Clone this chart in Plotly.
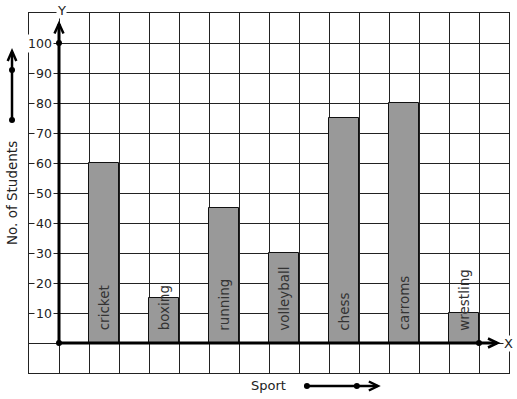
import plotly.graph_objects as go

sports = ["cricket", "boxing", "running", "volleyball", "chess", "carroms", "wrestling"]
students = [60, 15, 45, 30, 75, 80, 10]
y_ticks = [10, 20, 30, 40, 50, 60, 70, 80, 90, 100]

FONT = "DejaVu Sans"
INK = "#222222"

# each sport occupies one grid column, with an empty column between them
xpos = [1.5 + 2 * i for i in range(len(sports))]

fig = go.Figure()
fig.add_trace(go.Bar(
    x=xpos, y=students, width=1,
    marker=dict(color="#999999", line=dict(color="#111111", width=1)),
    hoverinfo="skip", showlegend=False,
))

annotations = []
for xp, s in zip(xpos, sports):
    annotations.append(dict(
        x=xp, y=3.4, xref="x", yref="y", text=s, textangle=-90,
        showarrow=False, xanchor="center", yanchor="bottom",
        font=dict(family=FONT, size=13.5, color="#333333"),
    ))
for v in y_ticks:
    annotations.append(dict(
        x=-0.17, y=v, xref="x", yref="y", text=str(v), showarrow=False,
        xanchor="right", yanchor="middle", bgcolor="white", borderpad=1,
        font=dict(family=FONT, size=12.5, color=INK),
    ))
annotations += [
    dict(x=0.07, y=1.008, xref="x", yref="paper", text="Y", showarrow=False,
         xanchor="center", yanchor="middle", bgcolor="white", borderpad=0,
         font=dict(family=FONT, size=13, color=INK)),
    dict(x=14.97, y=0, xref="x", yref="y", text="X", showarrow=False,
         xanchor="center", yanchor="middle", bgcolor="white", borderpad=0,
         font=dict(family=FONT, size=13, color=INK)),
    dict(x=0.498, y=-0.036, xref="paper", yref="paper", text="Sport", showarrow=False,
         xanchor="center", yanchor="middle",
         font=dict(family=FONT, size=13, color=INK)),
    dict(x=-0.0354, y=0.5, xref="paper", yref="paper", text="No. of Students",
         textangle=-90, showarrow=False, xanchor="center", yanchor="middle",
         font=dict(family=FONT, size=13.5, color=INK)),
]

shapes = []
blk = dict(color="black", width=3)
# axes
shapes.append(dict(type="line", xref="x", yref="y", x0=0, y0=0, x1=0, y1=106.3, line=blk))
shapes.append(dict(type="line", xref="x", yref="y", x0=0, y0=0, x1=14.6, y1=0, line=blk))
# axis arrowheads
shapes.append(dict(type="path", xref="x", yref="y",
                   path="M -0.15,103.2 L 0,106.5 L 0.15,103.2", line=dict(color="black", width=2.5)))
shapes.append(dict(type="path", xref="x", yref="y",
                   path="M 14.3,1.5 L 14.62,0 L 14.3,-1.5", line=dict(color="black", width=2.5)))
# left indicator arrow
ar = dict(color="black", width=2.5)
shapes.append(dict(type="line", xref="paper", yref="paper", x0=-0.0354, y0=0.7028, x1=-0.0354, y1=0.892, line=ar))
shapes.append(dict(type="path", xref="paper", yref="paper",
                   path="M -0.0444,0.867 L -0.0354,0.8944 L -0.0264,0.867", line=ar))
# sport indicator arrow
shapes.append(dict(type="line", xref="paper", yref="paper", x0=0.579, y0=-0.0361, x1=0.726, y1=-0.0361, line=ar))
shapes.append(dict(type="path", xref="paper", yref="paper",
                   path="M 0.708,-0.0236 L 0.727,-0.0361 L 0.708,-0.0486", line=ar))
# dots
def dot_paper(px, py):
    rx, ry = 3 / 480, 3 / 360
    return dict(type="circle", xref="paper", yref="paper", x0=px - rx, x1=px + rx,
                y0=py - ry, y1=py + ry, fillcolor="black", line=dict(color="black", width=0))
shapes += [dot_paper(-0.0354, 0.7028), dot_paper(-0.0354, 0.8417),
           dot_paper(0.579, -0.0361), dot_paper(0.683, -0.0361)]

fig.add_trace(go.Scatter(
    x=[0, 0, 14], y=[0, 100, 0], mode="markers",
    marker=dict(color="black", size=6), cliponaxis=False,
    hoverinfo="skip", showlegend=False,
))

fig.update_layout(
    width=517, height=399, autosize=False,
    margin=dict(l=29, r=8, t=13, b=26, pad=0),
    paper_bgcolor="white", plot_bgcolor="white",
    annotations=annotations, shapes=shapes,
    xaxis=dict(range=[-1, 15], tick0=0, dtick=1, showgrid=True, gridcolor=INK, gridwidth=1,
               showticklabels=False, ticks="", zeroline=False, showline=True,
               linecolor=INK, linewidth=1, mirror=True, fixedrange=True),
    yaxis=dict(range=[-10, 110], tick0=0, dtick=10, showgrid=True, gridcolor=INK, gridwidth=1,
               showticklabels=False, ticks="", zeroline=False, showline=True,
               linecolor=INK, linewidth=1, mirror=True, fixedrange=True),
    bargap=0,
)

fig.write_html("out.html", config={"displayModeBar": False},
               post_script="document.body.style.margin='0';document.body.style.overflow='hidden';")
